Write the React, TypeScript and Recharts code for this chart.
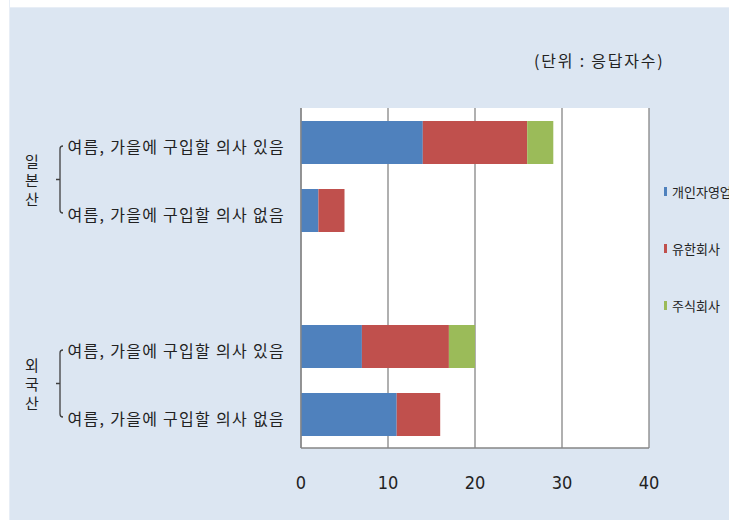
import React from "react";
import {
  BarChart,
  Bar,
  XAxis,
  YAxis,
  CartesianGrid,
  Legend,
} from "recharts";

const ROW_IDS = ["jp-yes", "jp-no", "gap", "im-yes", "im-no"];
const ROW_LABELS = [
  "여름, 가을에 구입할 의사 있음",
  "여름, 가을에 구입할 의사 없음",
  "",
  "여름, 가을에 구입할 의사 있음",
  "여름, 가을에 구입할 의사 없음",
];
const GROUPS = [
  { name: "일본산", first: 0, last: 1 },
  { name: "외국산", first: 3, last: 4 },
];

const SERIES = [
  { key: "individual", name: "개인자영업", color: "#4f81bd" },
  { key: "limited", name: "유한회사", color: "#c0504d" },
  { key: "stock", name: "주식회사", color: "#9bbb59" },
];
const INDIVIDUAL = [14, 2, null, 7, 11];
const LIMITED = [12, 3, null, 10, 5];
const STOCK = [3, null, null, 3, null];
const X_TICKS = [0, 10, 20, 30, 40];
const UNIT_LABEL = "(단위 : 응답자수)";

const data = ROW_IDS.map((id, i) => ({
  id,
  individual: INDIVIDUAL[i],
  limited: LIMITED[i],
  stock: STOCK[i],
}));

const W = 729;
const H = 520;
const MARGIN = { top: 108, right: 80, bottom: 32, left: 0 };
const X_AXIS_H = 40;
const BAND = (H - MARGIN.top - MARGIN.bottom - X_AXIS_H) / ROW_IDS.length;
const FONT = "'Noto Sans CJK KR', 'Noto Sans', sans-serif";
const GRID = "#868686";
const PANEL = "#dce6f2";

function CategoryTick({ x, y, index }) {
  const label = ROW_LABELS[index];
  const group = GROUPS.find((g) => g.first === index);
  let bracket = null;
  if (group) {
    const bx = x - 233;
    const top = y + 4;
    const bottom = y + BAND * (group.last - group.first) + 3;
    const mid = (top + bottom) / 2;
    bracket = (
      <g>
        <path
          d={`M${bx + 3},${top} Q${bx},${top} ${bx},${top + 3} L${bx},${bottom - 3} Q${bx},${bottom} ${bx + 3},${bottom} M${bx},${mid} L${bx - 4},${mid}`}
          fill="none"
          stroke="#404040"
          strokeWidth={1.3}
        />
        {Array.from(group.name).map((ch, k) => (
          <text
            key={k}
            x={32}
            y={mid + (k - 1) * 19}
            textAnchor="middle"
            dominantBaseline="central"
            fontSize={15}
            fontFamily={FONT}
            fill="#222"
          >
            {ch}
          </text>
        ))}
      </g>
    );
  }
  return (
    <g>
      {label && (
        <text
          x={x - 8}
          y={y + 4}
          textAnchor="end"
          dominantBaseline="central"
          fontSize={16}
          letterSpacing={1.3}
          fontFamily={FONT}
          fill="#222"
        >
          {label}
        </text>
      )}
      {bracket}
    </g>
  );
}

function LegendBox({ payload }) {
  return (
    <div style={{ fontFamily: FONT, fontSize: 13, color: "#222" }}>
      {(payload || []).map((item) => (
        <div
          key={item.value}
          style={{ display: "flex", alignItems: "center", height: 57, whiteSpace: "nowrap" }}
        >
          <span
            style={{
              display: "inline-block",
              width: 3,
              height: 9,
              background: item.color,
              marginRight: 5,
            }}
          />
          {item.value}
        </div>
      ))}
    </div>
  );
}

export default function App() {
  return (
    <div
      style={{
        position: "fixed",
        left: 0,
        top: 0,
        right: 0,
        bottom: 0,
        background: PANEL,
        overflow: "hidden",
      }}
    >
      <style>{`html, body { margin: 0; overflow: hidden; background: ${PANEL}; }`}</style>
      {/* white strips along the top and left edges */}
      <div style={{ position: "absolute", left: 0, top: 0, right: 0, height: 7, background: "#fff", borderBottom: "1px solid #e8eef6" }} />
      <div style={{ position: "absolute", left: 0, top: 0, bottom: 0, width: 9, background: "#fff", borderRight: "1px solid #e8eef6" }} />
      <div
        style={{
          position: "absolute",
          left: 534,
          top: 48,
          fontFamily: FONT,
          fontSize: 16,
          letterSpacing: 1.8,
          color: "#222",
          whiteSpace: "nowrap",
        }}
      >
        {UNIT_LABEL}
      </div>
      <div style={{ position: "absolute", left: 0, top: 0 }}>
        <BarChart
          width={W}
          height={H}
          data={data}
          layout="vertical"
          margin={MARGIN}
        >
          <CartesianGrid
            horizontal={false}
            stroke={GRID}
            strokeWidth={1.3}
            fill="#ffffff"
          />
          <XAxis
            type="number"
            domain={[0, 40]}
            ticks={X_TICKS}
            height={X_AXIS_H}
            axisLine={{ stroke: GRID, strokeWidth: 1.3 }}
            tickLine={false}
            tickSize={0}
            tickMargin={28}
            tick={{
              fontSize: 18,
              fill: "#222",
              fontFamily: "'Liberation Sans Narrow', 'DejaVu Sans Condensed', sans-serif",
            }}
          />
          <YAxis
            type="category"
            dataKey="id"
            width={301}
            axisLine={{ stroke: GRID, strokeWidth: 1.3 }}
            tickLine={false}
            interval={0}
            tick={<CategoryTick />}
          />
          <Legend
            layout="vertical"
            align="center"
            verticalAlign="middle"
            wrapperStyle={{ left: 664, top: 163, width: 100 }}
            content={<LegendBox />}
          />
          {SERIES.map((s) => (
            <Bar
              key={s.key}
              dataKey={s.key}
              name={s.name}
              stackId="total"
              fill={s.color}
              barSize={43}
              isAnimationActive={false}
            />
          ))}
        </BarChart>
      </div>
    </div>
  );
}
